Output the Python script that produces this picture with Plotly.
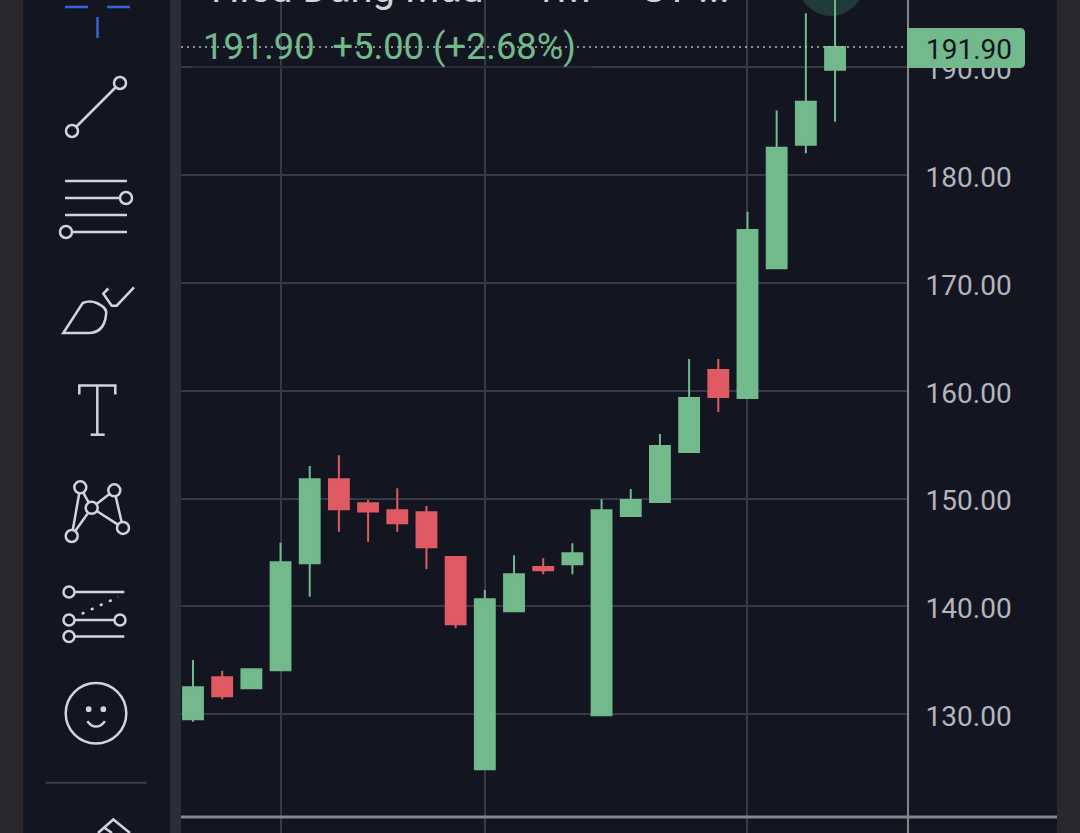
import plotly.graph_objects as go

# velas
sesiones = list(range(23))
aperturas = [129.54, 133.43, 132.41, 134.08, 144.0, 151.8, 149.57, 148.92, 148.74, 144.59, 124.9, 139.55,
             143.67, 143.92, 129.91, 148.4, 149.7, 154.33, 161.94, 159.34, 171.37, 182.84, 189.8]
maximos = [135.04, 134.04, 134.17, 145.9, 153.03, 154.03, 149.88, 150.97, 149.32, 144.59, 141.53, 144.75,
           144.47, 145.86, 149.94, 150.9, 156.0, 162.96, 162.96, 176.62, 186.0, 195.03, 198.0]
minimos = [129.3, 131.39, 132.41, 134.08, 140.91, 146.94, 146.01, 146.94, 143.45, 137.98, 124.9, 139.55,
           142.99, 142.99, 129.91, 148.4, 149.7, 154.33, 158.04, 159.34, 171.37, 182.04, 184.97]
cierres = [132.5, 131.67, 134.17, 144.1, 151.8, 149.02, 148.8, 147.72, 145.49, 138.35, 140.67, 142.99,
           143.36, 144.94, 148.92, 149.88, 154.89, 159.34, 159.43, 174.93, 182.56, 186.83, 191.9]

precios_eje = [130, 140, 150, 160, 170, 180, 190]
etiquetas_eje = ["130.00", "140.00", "150.00", "160.00", "170.00", "180.00", "190.00"]
sesiones_grid = [3, 10, 19]
ultimo_precio = "191.90"
leyenda = "191.90  +5.00 (+2.68%)"
titulo = "Hieu Dang Mau  ·  1M  ·  ST ..."

ANCHO, ALTO = 1080, 833
FONDO = "#131621"
BANDA = "#2a282c"
DIVISOR = "#2a2e39"
GRID = "#363a45"
EJE = "#85868b"
VERDE = "#72b98c"
ROJO = "#df5a63"
ICONO = "#d1d4dc"
AZUL = "#3a62d6"


def px(x):
    return x / ANCHO


def py(y):
    return 1 - y / ALTO


def rect(x0, y0, x1, y1, color, capa="below", opacidad=1):
    return dict(type="rect", xref="paper", yref="paper", x0=px(x0), x1=px(x1), y0=py(y0), y1=py(y1),
                fillcolor=color, line_width=0, layer=capa, opacity=opacidad)


def linea(x0, y0, x1, y1, color=ICONO, ancho=2.5, capa="above", dash=None):
    return dict(type="line", xref="paper", yref="paper", x0=px(x0), x1=px(x1), y0=py(y0), y1=py(y1),
                line=dict(color=color, width=ancho, dash=dash), layer=capa)


def circulo(cx, cy, r, color=ICONO, relleno=FONDO, ancho=2.5, capa="above"):
    return dict(type="circle", xref="paper", yref="paper", x0=px(cx - r), x1=px(cx + r),
                y0=py(cy + r), y1=py(cy - r), line=dict(color=color, width=ancho),
                fillcolor=relleno, layer=capa)


def trazo(puntos, color=ICONO, ancho=2.5, cerrado=False):
    # puntos: tuplas (x, y) en pixeles; usa curvas Q si la tupla trae 4 valores
    d = f"M {px(puntos[0][0])} {py(puntos[0][1])}"
    for p in puntos[1:]:
        if len(p) == 4:
            d += f" Q {px(p[0])} {py(p[1])} {px(p[2])} {py(p[3])}"
        else:
            d += f" L {px(p[0])} {py(p[1])}"
    if cerrado:
        d += " Z"
    return dict(type="path", xref="paper", yref="paper", path=d, line=dict(color=color, width=ancho), layer="above")


formas = [
    rect(0, 0, 23, ALTO, BANDA),
    rect(170, 0, 181, ALTO, DIVISOR),
    rect(1057, 0, ANCHO, ALTO, BANDA),
    # circulo del cursor arriba
    circulo(831, -17, 33, color="#1f3a3a", relleno="#1f3a3a", ancho=0, capa="below"),
    # fondo tenue de la leyenda sobre la rejilla
    rect(192, 65.5, 593, 69.5, FONDO, "above", 0.35),
    # ejes y linea de precio
    linea(908, 0, 908, ALTO, EJE, 2, "above"),
    linea(181, 817, 1057, 817, EJE, 3, "above"),
    dict(type="line", xref="paper", yref="y", x0=px(181), x1=px(905), y0=191.9, y1=191.9,
         line=dict(color="#a9c2b2", width=1.5, dash="2px,4px"), layer="above"),
    dict(type="path", xref="paper", yref="paper", fillcolor=VERDE, line_width=0, layer="above",
         path=f"M {px(907)} {py(28)} L {px(1020)} {py(28)} Q {px(1025)} {py(28)} {px(1025)} {py(33)} "
              f"L {px(1025)} {py(63)} Q {px(1025)} {py(68)} {px(1020)} {py(68)} L {px(907)} {py(68)} Z"),
    # cruz azul
    linea(65, 7, 88, 7, AZUL),
    linea(107, 7, 130, 7, AZUL),
    linea(97.5, 17, 97.5, 38, AZUL),
    # linea de tendencia
    linea(72, 131, 120, 83),
    circulo(72, 131, 6),
    circulo(120, 83, 6),
    # lineas paralelas
    linea(65, 181, 127, 181),
    linea(65, 198, 120, 198),
    linea(65, 215, 127, 215),
    linea(72, 232, 127, 232),
    circulo(126, 198, 6),
    circulo(66, 232, 6),
    # pincel
    trazo([(63.3, 333), (82.7, 303), (90, 300, 96.7, 303), (108, 308, 106, 315), (104, 333, 88.3, 333)], cerrado=True),
    trazo([(108.3, 288.5), (103.3, 293.6), (111.7, 305.7), (116.7, 305.7), (134, 287.4)]),
    # texto
    trazo([(79.3, 394.5), (79.3, 385.4), (115.3, 385.4), (115.3, 394.5)]),
    linea(97.3, 385.4, 97.3, 434.7),
    linea(90.7, 434.7, 104.7, 434.7),
    # patrones
    linea(80.3, 487.3, 71.7, 536),
    linea(80.3, 487.3, 91.7, 507.8),
    linea(91.7, 507.8, 114.3, 490.3),
    linea(114.3, 490.3, 123, 527.9),
    linea(91.7, 507.8, 123, 527.9),
    linea(91.7, 507.8, 71.7, 536),
    circulo(80.3, 487.3, 6),
    circulo(114.3, 490.3, 6),
    circulo(91.7, 507.8, 6),
    circulo(71.7, 536, 6),
    circulo(123, 527.9, 6),
    # prediccion
    linea(69, 591.9, 124.3, 591.9),
    linea(69, 620, 120, 620),
    linea(69, 636.5, 124.3, 636.5),
    linea(81.7, 613.8, 118.3, 597, dash="3px,7px"),
    circulo(69, 591.9, 5.5),
    circulo(69, 620, 5.5),
    circulo(120, 620, 5.5),
    circulo(69, 636.5, 5.5),
    # carita
    circulo(96, 713.2, 30.3),
    circulo(88.7, 709.2, 1.6, relleno=ICONO),
    circulo(103.3, 709.2, 1.6, relleno=ICONO),
    trazo([(87.3, 721.2), (96, 732, 105, 721.2)]),
    # separador e icono cortado
    linea(45.7, 782.7, 146.7, 782.7, "#3d3f49", 2),
    trazo([(98, 833), (113.3, 819.5), (130, 833)]),
    linea(104, 827.5, 112, 833),
]

fig = go.Figure(go.Candlestick(
    x=sesiones, open=aperturas, high=maximos, low=minimos, close=cierres,
    increasing=dict(line=dict(color=VERDE, width=2), fillcolor=VERDE),
    decreasing=dict(line=dict(color=ROJO, width=2), fillcolor=ROJO),
    whiskerwidth=0, hoverinfo="skip", showlegend=False,
))

fig.update_layout(
    width=ANCHO, height=ALTO, margin=dict(l=0, r=0, t=0, b=0),
    paper_bgcolor=FONDO, plot_bgcolor=FONDO, boxgap=0.32, boxgroupgap=0,
    font=dict(family="Roboto", color="#b2b5be"),
    shapes=formas,
    annotations=[
        dict(xref="paper", yref="paper", x=px(201), y=py(46), xanchor="left", yanchor="middle", showarrow=False,
             text=leyenda, font=dict(family="Roboto", size=36.3, color=VERDE)),
        dict(xref="paper", yref="paper", x=px(969), y=py(49), xanchor="center", yanchor="middle", showarrow=False,
             text=ultimo_precio, font=dict(family="Roboto", size=28, color="#10141c")),
        dict(xref="paper", yref="paper", x=px(209), y=py(-11), xanchor="left", yanchor="middle", showarrow=False,
             text=titulo, font=dict(family="Roboto", size=40, color="#d1d4dc")),
    ],
    xaxis=dict(
        domain=[px(181), px(908)], range=[-0.411, 24.5], rangeslider=dict(visible=False),
        tickvals=sesiones_grid, showticklabels=False, showgrid=True, gridcolor=GRID, gridwidth=2,
        ticks="outside", ticklen=16, tickwidth=2, tickcolor=GRID, zeroline=False, showline=False,
    ),
    yaxis=dict(
        domain=[py(817), 1], range=[120.47, 196.26], side="right", anchor="x",
        tickvals=precios_eje, ticktext=etiquetas_eje, showgrid=True, gridcolor=GRID, gridwidth=2,
        ticks="outside", ticklen=11, tickcolor="rgba(0,0,0,0)", ticklabelshift=2,
        tickfont=dict(family="Roboto", size=28, color="#b2b5be"),
        zeroline=False, showline=False,
    ),
)

fig.write_html("out.html", config=dict(displayModeBar=False),
               post_script="document.body.style.margin='0';document.body.style.overflow='hidden';")
